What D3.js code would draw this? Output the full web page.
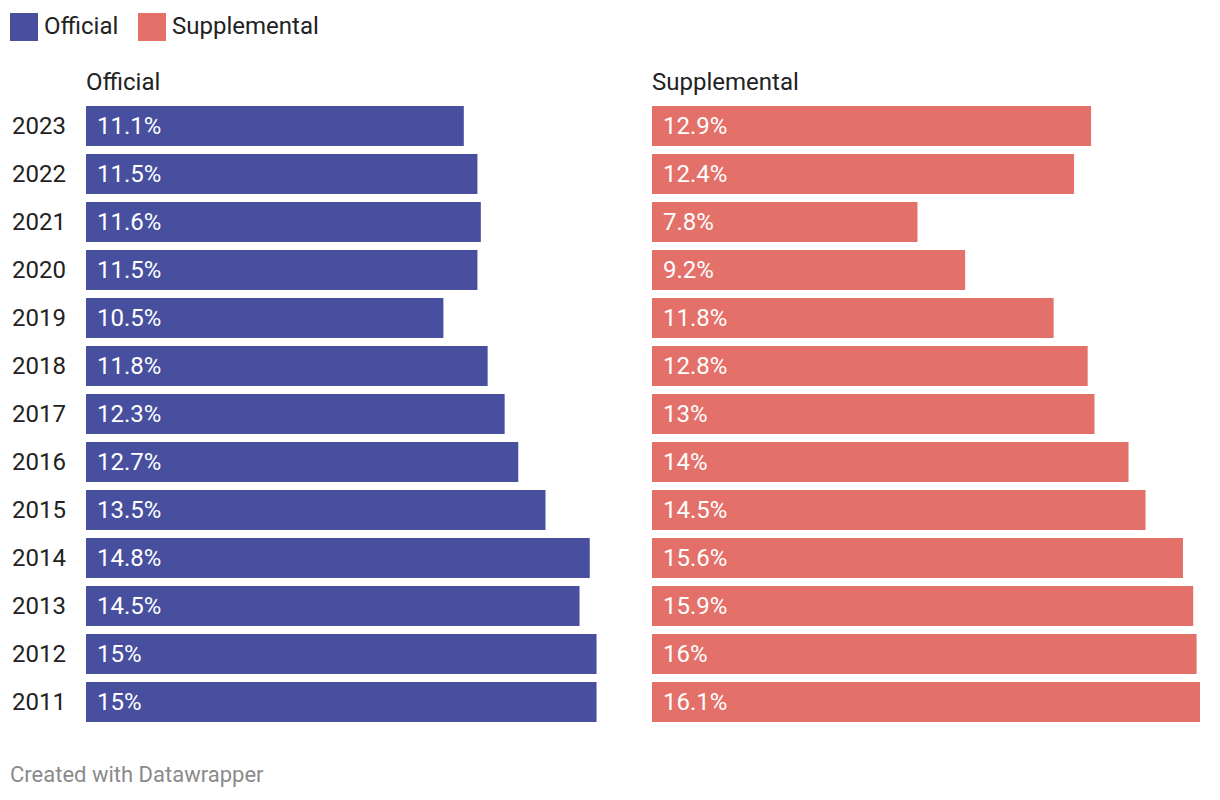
<!DOCTYPE html>
<html>
<head>
<meta charset="utf-8">
<script src="https://cdn.jsdelivr.net/npm/d3@7"></script>
<style>
  html, body { margin: 0; padding: 0; background: #fff; }
  svg { display: block; font-family: Roboto, "Noto Sans", sans-serif; }
</style>
</head>
<body>
<svg id="chart" width="1220" height="800"></svg>
<script>
const years = ["2023","2022","2021","2020","2019","2018","2017","2016","2015","2014","2013","2012","2011"];
const official = [11.1, 11.5, 11.6, 11.5, 10.5, 11.8, 12.3, 12.7, 13.5, 14.8, 14.5, 15, 15];
const supplemental = [12.9, 12.4, 7.8, 9.2, 11.8, 12.8, 13, 14, 14.5, 15.6, 15.9, 16, 16.1];
const seriesNames = ["Official", "Supplemental"];
const colors = ["#494f9f", "#e4706a"];

const svg = d3.select("#chart");

// Legend
const legend = svg.append("g");
const legendX = [10, 138];
seriesNames.forEach((name, i) => {
  legend.append("rect").attr("x", legendX[i]).attr("y", 13).attr("width", 28).attr("height", 28).attr("fill", colors[i]);
  legend.append("text").attr("x", legendX[i] + 34).attr("y", 26).attr("dominant-baseline", "central")
    .attr("font-size", 24).attr("fill", "#222").text(name);
});

const y = d3.scaleBand().domain(years).range([102, 726]).paddingInner(1/6).paddingOuter(1/12);
const x = d3.scaleLinear().domain([0, 16.1]).range([0, 548]);

// Year labels
svg.append("g").selectAll("text").data(years).join("text")
  .attr("x", 12).attr("y", d => y(d) + y.bandwidth() / 2).attr("dominant-baseline", "central")
  .attr("font-size", 24).attr("fill", "#222").text(d => d);

const panelX = [86, 652];
const data = [official, supplemental];
const fmt = v => (Math.round(v * 10) / 10) + "%";

data.forEach((vals, i) => {
  const g = svg.append("g").attr("transform", `translate(${panelX[i]},0)`);
  g.append("text").attr("x", 0).attr("y", 82).attr("dominant-baseline", "central")
    .attr("font-size", 24).attr("fill", "#222").text(seriesNames[i]);
  g.selectAll("rect").data(vals).join("rect")
    .attr("x", 0).attr("y", (d, j) => y(years[j])).attr("height", y.bandwidth())
    .attr("width", d => x(d)).attr("fill", colors[i]);
  g.selectAll("text.val").data(vals).join("text").attr("class", "val")
    .attr("x", 11).attr("y", (d, j) => y(years[j]) + y.bandwidth() / 2).attr("dominant-baseline", "central")
    .attr("font-size", 24).attr("fill", "#fff").text(fmt);
});

svg.append("text").attr("x", 10).attr("y", 774).attr("dominant-baseline", "central")
  .attr("font-size", 22).attr("fill", "#8a8a8a").text("Created with Datawrapper");
</script>
</body>
</html>
